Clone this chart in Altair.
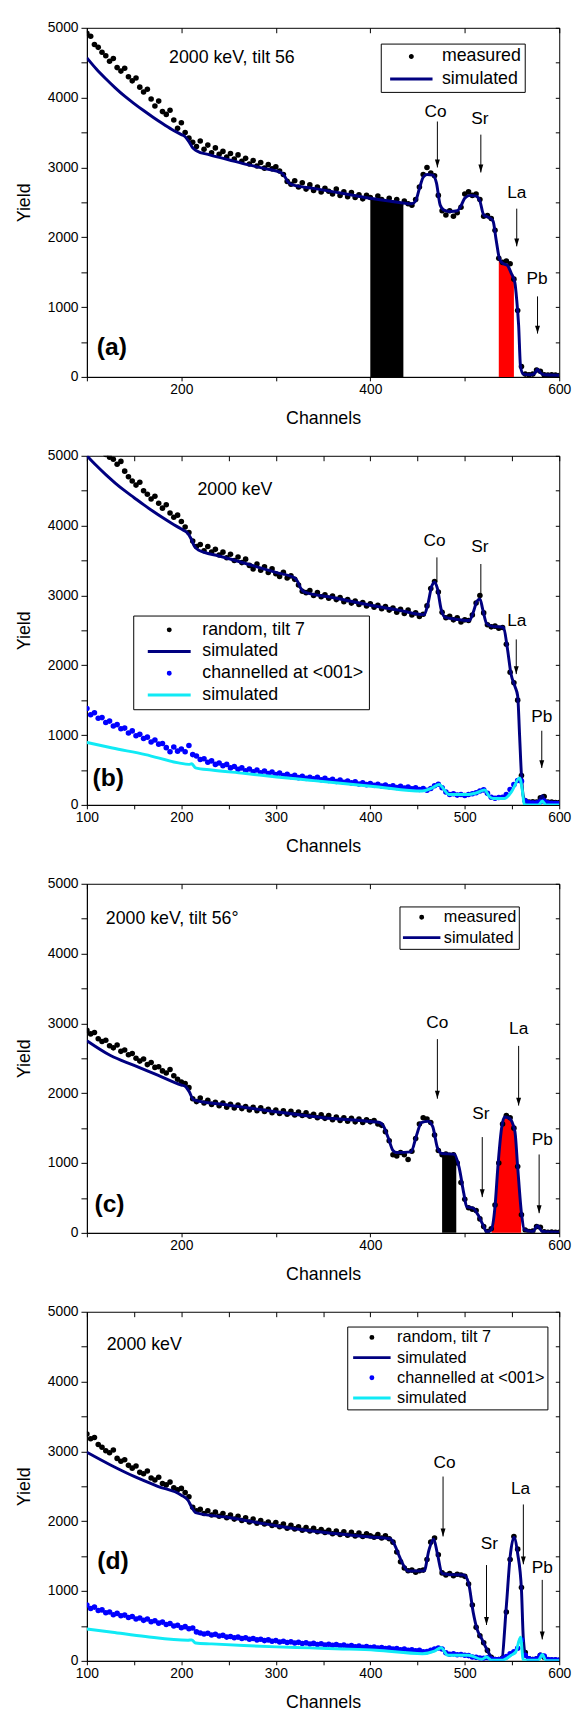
import altair as alt
import pandas as pd

FONT = "Liberation Sans"
NAVY = "#000080"
BLUE = "#0000ff"
CYAN = "#10eaf5"

# measured spectra sampled every 4th channel, 100..600
CH = list(range(100, 601, 4))

MEAS_A = [
    4920, 4880, 4760, 4720, 4650, 4600, 4520, 4560, 4430, 4380,
    4420, 4300, 4240, 4280, 4150, 4080, 4120, 3980, 3880, 3950,
    3800, 3760, 3820, 3680, 3560, 3640, 3500, 3420, 3360, 3300,
    3380, 3260, 3320, 3210, 3280, 3190, 3230, 3150, 3200, 3120,
    3180, 3090, 3130, 3050, 3100, 3020, 3070, 2990, 3040, 2980,
    3010, 2950, 2900, 2800, 2760, 2810, 2720, 2780, 2690, 2750,
    2670, 2720, 2650, 2700, 2660, 2620, 2690, 2600, 2650, 2580,
    2640, 2570, 2610, 2550, 2600, 2570, 2520, 2590, 2540, 2500,
    2560, 2490, 2540, 2470, 2520, 2480, 2460, 2540, 2720, 2900,
    3000, 2920, 2880, 2600, 2380, 2320, 2380, 2300, 2350, 2430,
    2620, 2650, 2600, 2620, 2540, 2300, 2310, 2270, 2100, 1700,
    1640, 1660, 1620, 1400, 950, 150, 40, 30, 40, 100,
    80, 30, 25, 30, 25, 20,
]

MEAS_B = [
    5250, 5200, 5150, 5120, 5080, 5020, 4980, 4950, 4880, 4920,
    4780, 4700, 4640, 4580, 4620, 4500, 4450, 4380, 4420, 4320,
    4250, 4300, 4180, 4120, 4150, 4060, 3980, 3900, 3780, 3700,
    3730, 3640, 3700, 3620, 3660, 3580, 3620, 3540, 3590, 3500,
    3550, 3470, 3520, 3430, 3380, 3450, 3360, 3410, 3330, 3380,
    3310, 3270, 3330, 3250, 3280, 3230, 3150, 3060, 3040, 3070,
    3000, 3040, 2980, 3010, 2960, 2990, 2940, 2970, 2910, 2940,
    2890, 2920, 2870, 2900, 2850, 2880, 2830, 2860, 2810, 2840,
    2790, 2820, 2760, 2800, 2740, 2790, 2720, 2750, 2700, 2730,
    2850, 3100, 3200, 3050, 2760, 2680, 2700, 2650, 2680, 2620,
    2650, 2640, 2720, 2890, 3000, 2750, 2580, 2550, 2560, 2530,
    2540, 2300, 1900, 1750, 1500, 420, 60, 40, 45, 40,
    100, 120, 40, 40, 35, 35,
]

CHAN_B = [
    1380, 1290, 1320, 1240, 1250, 1180, 1200, 1130, 1150, 1090,
    1100, 1030, 1060, 990, 1010, 950, 970, 900, 930, 870,
    880, 820, 760, 830, 770, 800, 760, 850, 720, 700,
    650, 660, 610, 630, 580, 600, 560, 580, 530, 550,
    510, 530, 490, 515, 475, 500, 460, 485, 450, 470,
    435, 455, 420, 440, 405, 425, 390, 410, 380, 395,
    375, 395, 360, 380, 350, 365, 335, 355, 325, 340,
    315, 330, 300, 315, 290, 305, 280, 295, 270, 285,
    260, 275, 250, 265, 240, 255, 230, 245, 220, 235,
    210, 235, 275, 295, 245, 185, 150, 160, 140, 150,
    135, 150, 160, 175, 200, 215, 165, 110, 95, 105,
    110, 150, 220, 290, 350, 340, 60, 30, 25, 25,
    45, 55, 25, 20, 20, 20,
]

MEAS_C = [
    2900, 2850, 2870, 2780, 2740, 2760, 2680, 2650, 2690, 2600,
    2620, 2550, 2570, 2500, 2460, 2490, 2410, 2440, 2370, 2380,
    2320, 2290, 2340, 2250, 2200, 2160, 2140, 2080, 1920, 1880,
    1930, 1860, 1900, 1840, 1870, 1820, 1860, 1800, 1840, 1790,
    1830, 1780, 1810, 1760, 1800, 1750, 1790, 1740, 1770, 1720,
    1760, 1710, 1750, 1700, 1740, 1690, 1730, 1680, 1720, 1670,
    1700, 1650, 1690, 1640, 1680, 1620, 1660, 1610, 1650, 1600,
    1640, 1590, 1630, 1580, 1620, 1590, 1610, 1560, 1540, 1450,
    1320, 1120, 1100, 1150, 1120, 1050, 1170, 1350, 1560, 1650,
    1630, 1580, 1400, 1180, 1120, 1130, 1110, 1120, 1000, 720,
    480, 360, 340, 320, 200, 90, 20, 60, 400, 1000,
    1560, 1680, 1650, 1500, 950, 260, 40, 20, 25, 90,
    80, 15, 10, 12, 10, 8,
]

MEAS_D = [
    3250, 3180, 3200, 3100, 3060, 3010, 2980, 3020, 2900, 2860,
    2880, 2800, 2760, 2790, 2700, 2680, 2720, 2620, 2590, 2630,
    2540, 2520, 2560, 2480, 2450, 2470, 2410, 2350, 2200, 2150,
    2170, 2110, 2150, 2090, 2130, 2070, 2110, 2050, 2090, 2030,
    2070, 2010, 2050, 1990, 2030, 1970, 2010, 1960, 1990, 1940,
    1980, 1920, 1960, 1900, 1940, 1890, 1920, 1870, 1910, 1860,
    1900, 1850, 1880, 1840, 1870, 1820, 1860, 1810, 1850, 1800,
    1840, 1790, 1830, 1780, 1820, 1790, 1770, 1810, 1760, 1790,
    1750, 1700, 1560, 1420, 1330, 1290, 1300, 1270, 1290, 1300,
    1450, 1700, 1760, 1520, 1260, 1230, 1250, 1220, 1240, 1230,
    1210, 1100, 800, 480, 360, 260, 150, 50, 20, 20,
    40, 700, 1450, 1780, 1600, 1050, 120, 30, 20, 30,
    80, 50, 15, 12, 10, 8,
]

CHAN_D = [
    800, 750, 770, 720, 730, 690, 700, 660, 680, 645,
    655, 620, 635, 600, 615, 580, 600, 560, 575, 540,
    555, 520, 535, 500, 510, 475, 490, 460, 470, 415,
    400, 385, 395, 370, 380, 355, 365, 340, 350, 330,
    340, 320, 330, 310, 320, 300, 310, 290, 300, 280,
    290, 270, 280, 262, 272, 255, 265, 248, 258, 242,
    250, 235, 245, 228, 238, 222, 232, 215, 225, 210,
    218, 202, 212, 196, 206, 190, 198, 183, 192, 176,
    184, 168, 176, 160, 168, 152, 160, 144, 150, 130,
    135, 150, 170, 185, 170, 115, 95, 100, 88, 92,
    80, 75, 55, 50, 40, 38, 45, 25, 20, 20,
    30, 60, 100, 130, 180, 300, 80, 30, 20, 30,
    80, 70, 20, 15, 15, 10,
]

# simulated spectra (channel, yield)
SIM_A = [(100, 4570), (110, 4410), (120, 4270), (130, 4140), (140, 4020), (150, 3915),
         (160, 3815), (170, 3720), (180, 3630), (190, 3545), (200, 3470), (204, 3440),
         (208, 3370), (212, 3280), (216, 3240), (230, 3180), (250, 3110), (270, 3040),
         (290, 2980), (305, 2930), (309, 2880), (313, 2790), (318, 2750), (340, 2700),
         (370, 2630), (400, 2560), (420, 2520), (444, 2480), (448, 2520), (452, 2700),
         (456, 2860), (460, 2900), (466, 2890), (470, 2780), (474, 2460), (478, 2390),
         (485, 2370), (492, 2380), (496, 2450), (500, 2560), (506, 2600), (512, 2590),
         (516, 2520), (520, 2320), (526, 2280), (530, 2230), (533, 1980), (537, 1680),
         (541, 1620), (545, 1600), (549, 1490), (553, 1350), (555, 1100), (557, 740),
         (559, 150), (562, 40), (570, 30), (574, 50), (577, 110), (580, 60), (584, 30),
         (600, 25)]

SIM_B = [(100, 5000), (110, 4860), (120, 4730), (130, 4610), (140, 4500), (150, 4400),
         (160, 4300), (170, 4205), (180, 4115), (190, 4030), (200, 3950), (206, 3900),
         (210, 3820), (214, 3700), (218, 3650), (240, 3565), (260, 3490), (280, 3410),
         (300, 3330), (320, 3250), (323, 3200), (326, 3110), (330, 3050), (360, 2970),
         (400, 2860), (430, 2790), (457, 2725), (461, 2880), (465, 3130), (468, 3190),
         (471, 3100), (475, 2800), (479, 2690), (490, 2660), (505, 2640), (509, 2760),
         (513, 2920), (516, 2950), (519, 2800), (523, 2600), (528, 2560), (541, 2540),
         (545, 2250), (549, 1870), (553, 1700), (556, 1560), (558, 1000), (560, 420),
         (562, 120), (565, 45), (575, 40), (579, 70), (582, 130), (585, 60), (590, 40),
         (600, 35)]

CYAN_B = [(100, 894), (127, 814), (162, 720), (197, 602), (208, 580), (211, 588),
          (215, 531), (232, 499), (266, 452), (301, 400), (336, 353), (371, 306),
          (406, 260), (455, 198), (465, 240), (473, 292), (478, 220), (483, 150),
          (504, 150), (512, 170), (521, 212), (526, 120), (530, 90), (542, 90),
          (550, 200), (558, 387), (561, 200), (563, 0), (578, 0), (582, 55), (586, 0),
          (600, 0)]

SIM_C = [(100, 2752), (125, 2540), (150, 2399), (175, 2258), (200, 2117), (204, 2100),
         (208, 2030), (213, 1905), (250, 1830), (300, 1735), (350, 1650), (400, 1595),
         (410, 1580), (414, 1526), (419, 1362), (424, 1180), (428, 1150), (443, 1160),
         (449, 1400), (454, 1580), (461, 1600), (466, 1526), (471, 1221), (476, 1136),
         (489, 1127), (494, 939), (499, 563), (502, 375), (509, 352), (514, 258),
         (520, 94), (523, 14), (528, 47), (532, 375), (535, 939), (539, 1502),
         (542, 1660), (547, 1643), (553, 1455), (556, 939), (560, 282), (563, 47),
         (572, 20), (577, 103), (582, 20), (600, 10)]

SIM_D = [(100, 2987), (125, 2805), (150, 2641), (175, 2500), (200, 2373), (207, 2300),
         (211, 2200), (215, 2124), (250, 2053), (300, 1936), (350, 1842), (400, 1775),
         (421, 1750), (426, 1653), (431, 1488), (436, 1347), (440, 1286), (457, 1290),
         (462, 1582), (467, 1746), (471, 1535), (476, 1254), (485, 1235), (499, 1230),
         (504, 1113), (509, 690), (513, 455), (518, 315), (523, 174), (528, 56),
         (533, 20), (539, 33), (544, 784), (548, 1488), (552, 1770), (556, 1535),
         (560, 1019), (562, 315), (565, 56), (575, 20), (582, 90), (587, 20), (600, 10)]

CYAN_D = [(100, 457), (127, 410), (162, 348), (207, 295), (211, 300), (215, 257),
          (232, 243), (266, 219), (301, 200), (336, 186), (371, 171), (406, 152),
          (455, 103), (468, 140), (475, 188), (482, 80), (504, 80), (518, 23), (523, 56),
          (528, 10), (540, 10), (549, 80), (554, 127), (559, 338), (562, 10), (578, 10),
          (582, 90), (586, 0), (600, 0)]

# shaded integration windows (channel, yield)
FILL_A_BLACK = [(400, 2560), (435, 2500)]
FILL_A_RED = [(536, 1700), (541, 1620), (545, 1600), (549, 1490), (552, 1380)]
FILL_C_BLACK = [(476, 1136), (491, 1120)]
FILL_C_RED = [(528.5, 50), (532, 375), (535, 939), (539, 1502), (542, 1660),
              (547, 1643), (553, 1455), (556, 939), (559.7, 330)]

# element labels: (text, text channel, text yield, arrow channel, arrow top, arrow tip, head)
ELEM_A = [("Co", 469, 3800, 471, 3658, 3000, 1), ("Sr", 516, 3696, 517, 3470, 2928, 1),
          ("La", 555, 2632, 555, 2410, 1870, 1), ("Pb", 576.5, 1398, 577, 1153, 621, 1)]
ELEM_B = [("Co", 468, 3780, 470.5, 3545, 3190, 0), ("Sr", 516, 3689, 517, 3450, 2990, 0),
          ("La", 555, 2630, 554.5, 2370, 1873, 1), ("Pb", 581.5, 1260, 581.5, 1062, 528, 1)]
ELEM_C = [("Co", 471, 3005, 471, 2775, 1922, 1), ("La", 557, 2918, 557, 2678, 1823, 1),
          ("Sr", 517, 1696, 518.5, 1372, 512, 1), ("Pb", 582, 1332, 578.7, 1123, 282, 1)]
ELEM_D = [("Co", 478.5, 2835, 477, 2640, 1782, 1), ("La", 559, 2458, 562, 2240, 1383, 1),
          ("Sr", 526, 1677, 523, 1372, 514, 1), ("Pb", 582, 1330, 582, 1160, 307, 1)]

ANNOT_A = ("2000 keV, tilt 56", 187, 4562)
ANNOT_B = ("2000 keV", 217, 4506)
ANNOT_C = ("2000 keV, tilt 56°", 120, 4492)
ANNOT_D = ("2000 keV", 121, 4530)

PLABEL_A = ("(a)", 110.5, 424)
PLABEL_B = ("(b)", 106, 381)
PLABEL_C = ("(c)", 108, 414)
PLABEL_D = ("(d)", 111, 1433)

LEG_A = dict(x=298, y=16, font=18, pad=3, clip=20, rowpad=3, len=43, so=5, lo=8)
LEG_B = dict(x=47, y=162, font=18, pad=5, clip=19, rowpad=3, len=43.5, so=8, lo=10)
LEG_C = dict(x=317, y=23, font=16.5, pad=2, clip=18, rowpad=2.6, len=38, so=0, lo=2)
LEG_D = dict(x=264, y=15, font=16.5, pad=2, clip=18, rowpad=2.5, len=38, so=2.5, lo=5)

W, H = 479, 354
XS = alt.Scale(domain=[100, 600], nice=False, zero=False)
YS = alt.Scale(domain=[0, 5000], nice=False, zero=False)
Y_TICKS = list(range(0, 5001, 500))
ARROW = "M0,0L-0.31,-1L0.31,-1Z"


def pairs_df(pairs, name=None):
    d = pd.DataFrame({"c": [p[0] for p in pairs], "v": [p[1] for p in pairs]})
    if name is not None:
        d["s"] = name
    return d


def make_legend(cfg):
    L = cfg["len"]
    r = 1.0 / (L / 2.0)
    circ = (f"M{-r:.4f},0A{r:.4f},{r:.4f},0,1,1,{r:.4f},0"
            f"A{r:.4f},{r:.4f},0,1,1,{-r:.4f},0Z")
    return alt.Legend(
        title=None, orient="none", legendX=cfg["x"], legendY=cfg["y"],
        direction="vertical",
        symbolType={"expr": f"(datum.index % 2 ? 'M-1,0H1' : '{circ}')"},
        symbolSize=L * L, symbolStrokeWidth=3, symbolOffset=cfg["so"],
        labelOffset=cfg["lo"], labelFont=FONT, labelFontSize=cfg["font"],
        labelColor="black", labelLimit=400, padding=cfg["pad"],
        clipHeight=cfg["clip"], rowPadding=cfg["rowpad"], strokeColor="black",
        fillColor="white", symbolOpacity=1,
    )


def make_panel(series, fills, elems, annot, plabel, leg, x_step, x_lab):
    names = []
    colors = []
    for mname, mvals, mcol, sname, spairs, scol in series:
        names += [mname, sname]
        colors += [mcol, scol]
    cscale = alt.Scale(domain=names, range=colors)
    legend = make_legend(leg)
    xvals = list(range(100, 601, x_step))

    x_main = alt.Axis(orient="bottom", values=xvals, title="Channels", format="d",
                      labelExpr=f"datum.value % {x_lab} === 0 ? datum.label : ''",
                      tickSize=4, labelPadding=2, titlePadding=13)
    y_main = alt.Axis(orient="left", values=Y_TICKS, title="Yield", format="d",
                      labelExpr="datum.value % 1000 === 0 ? datum.label : ''",
                      tickSize=6, labelPadding=3, titlePadding=12,
                      minExtent=42, maxExtent=42)
    x_mirror = alt.Axis(orient="top", values=xvals, labels=False, title=None,
                        domain=False, tickSize=5, offset=-5)
    y_mirror = alt.Axis(orient="right", values=Y_TICKS, labels=False, title=None,
                        domain=False, tickSize=4, offset=-4)

    def X(field, axis=None):
        return alt.X(field, type="quantitative", scale=XS, axis=axis)

    def Y(field, axis=None):
        return alt.Y(field, type="quantitative", scale=YS, axis=axis)

    layers = []
    for pts, col in fills:
        layers.append(
            alt.Chart(pairs_df(pts)).mark_area(color=col, opacity=1, interpolate="monotone")
            .encode(x=X("c"), y=Y("v"), y2=alt.datum(0))
        )

    edf = pd.DataFrame(elems, columns=["e", "tc", "ty", "ac", "a1", "a2", "head"])
    layers.append(alt.Chart(edf).mark_rule(color="black", strokeWidth=1)
                  .encode(x=X("ac"), y=Y("a1"), y2="a2"))
    layers.append(alt.Chart(edf[edf["head"] == 1]).mark_point(
        shape=ARROW, filled=True, color="black", size=256, opacity=1, strokeWidth=0)
        .encode(x=X("ac"), y=Y("a2")))

    first = True
    for mname, mvals, mcol, sname, spairs, scol in series:
        mdf = pd.DataFrame({"c": CH, "v": mvals, "s": mname})
        layers.append(
            alt.Chart(mdf).mark_circle(size=32, opacity=1, clip=True).encode(
                x=X("c", x_main if first else None),
                y=Y("v", y_main if first else None),
                color=alt.Color("s:N", scale=cscale, legend=legend),
            )
        )
        first = False
        layers.append(
            alt.Chart(pairs_df(spairs, sname)).mark_line(strokeWidth=3, interpolate="monotone",
                                                        clip=True).encode(
                x=X("c"), y=Y("v"),
                color=alt.Color("s:N", scale=cscale, legend=legend),
            )
        )

    layers.append(alt.Chart(edf).mark_text(font=FONT, fontSize=17.5, color="black",
                                           align="center", baseline="middle")
                  .encode(x=X("tc"), y=Y("ty"), text="e:N"))
    adf = pd.DataFrame([annot], columns=["t", "c", "v"])
    layers.append(alt.Chart(adf).mark_text(font=FONT, fontSize=18, color="black",
                                           align="left", baseline="middle")
                  .encode(x=X("c"), y=Y("v"), text="t:N"))
    pdf = pd.DataFrame([plabel], columns=["t", "c", "v"])
    layers.append(alt.Chart(pdf).mark_text(font=FONT, fontSize=25, fontWeight="bold",
                                           color="black", align="left", baseline="middle")
                  .encode(x=X("c", x_mirror), y=Y("v", y_mirror), text="t:N"))
    return alt.layer(*layers).properties(width=W, height=H)


p1 = make_panel([("measured", MEAS_A, "black", "simulated", SIM_A, NAVY)],
                [(FILL_A_BLACK, "black"), (FILL_A_RED, "#ff0000")],
                ELEM_A, ANNOT_A, PLABEL_A, LEG_A, 100, 200)
p2 = make_panel([("random, tilt 7", MEAS_B, "black", "simulated", SIM_B, NAVY),
                 ("channelled at <001>", CHAN_B, BLUE, "simulated ", CYAN_B, CYAN)],
                [], ELEM_B, ANNOT_B, PLABEL_B, LEG_B, 50, 100)
p3 = make_panel([("measured", MEAS_C, "black", "simulated", SIM_C, NAVY)],
                [(FILL_C_BLACK, "black"), (FILL_C_RED, "#ff0000")],
                ELEM_C, ANNOT_C, PLABEL_C, LEG_C, 100, 200)
p4 = make_panel([("random, tilt 7", MEAS_D, "black", "simulated", SIM_D, NAVY),
                 ("channelled at <001>", CHAN_D, BLUE, "simulated ", CYAN_D, CYAN)],
                [], ELEM_D, ANNOT_D, PLABEL_D, LEG_D, 50, 100)

chart = (
    alt.vconcat(p1, p2, p3, p4, spacing=80, bounds="flush")
    .resolve_scale(x="independent", y="independent", color="independent")
    .resolve_legend(color="independent")
    .properties(padding={"left": 7, "top": 0, "right": 5, "bottom": 4})
    .configure_view(stroke="black", strokeWidth=1)
    .configure_axis(labelFont=FONT, titleFont=FONT, labelFontSize=14, titleFontSize=18,
                    labelColor="black", titleColor="black", tickColor="black",
                    domainColor="black", grid=False, labelFlush=False, labelOverlap=False,
                    titleFontWeight="normal", tickWidth=1, domainWidth=1)
)

chart.save("out.html", embed_options={"renderer": "svg", "actions": False})
